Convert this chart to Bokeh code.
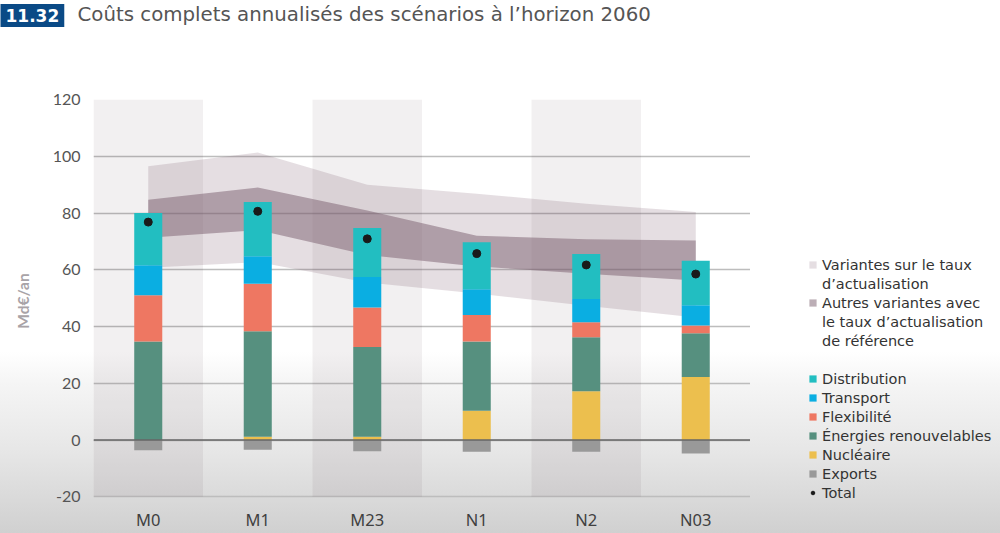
from bokeh.plotting import figure
from bokeh.layouts import row
from bokeh.models import (ColumnDataSource, FactorRange, Range1d, Legend, LegendItem,
                          Span, Label, FixedTicker)
from bokeh.embed import file_html
from bokeh.resources import INLINE

# ---------------- data ----------------
scenarios = ["M0", "M1", "M23", "N1", "N2", "N03"]
nucleaire = [0.0, 1.2, 1.2, 10.3, 17.2, 22.2]
energies_renouvelables = [34.7, 37.1, 31.6, 24.4, 19.0, 15.4]
flexibilite = [16.3, 16.8, 13.9, 9.4, 5.3, 2.8]
transport = [10.6, 9.7, 10.8, 9.0, 8.2, 7.1]
distribution = [18.4, 19.1, 17.2, 16.6, 15.9, 15.7]
exports = [-3.6, -3.4, -3.9, -4.1, -4.1, -4.7]
total = [76.8, 80.6, 70.9, 65.7, 61.7, 58.5]

# bands (variants)
taux_bas = [60.7, 62.7, 55.5, 51.6, 47.3, 43.2]
taux_haut = [96.5, 101.3, 90.0, 86.8, 83.3, 80.4]
autres_bas = [71.3, 74.0, 65.2, 61.2, 58.6, 56.2]
autres_haut = [84.7, 89.0, 80.9, 72.0, 70.8, 70.3]

shaded = ["M0", "M23", "N2"]
y_ticks = [-20, 0, 20, 40, 60, 80, 100, 120]

colors = {
    "nucleaire": "#ecbf4e",
    "energies_renouvelables": "#56907f",
    "flexibilite": "#ee7762",
    "transport": "#0aaee2",
    "distribution": "#22bec1",
    "exports": "#999999",
    "total": "#1a1a1a",
}
band_outer = dict(fill_color="#7d5a6e", fill_alpha=0.2)
band_inner = dict(fill_color="#7a5d6d", fill_alpha=0.5)

GRADIENT = {"background": "linear-gradient(to bottom, #ffffff 0%, #ffffff 66%, #f5f5f5 72%, #e6e6e6 85%, #d0d0d0 100%)"}

src = ColumnDataSource(dict(
    x=scenarios, nucleaire=nucleaire, energies_renouvelables=energies_renouvelables,
    flexibilite=flexibilite, transport=transport, distribution=distribution,
    exports=exports, total=total,
))

p = figure(
    x_range=FactorRange(*scenarios), y_range=Range1d(-22, 120),
    width=750, height=533, output_backend="svg", toolbar_location=None,
    min_border_left=93, min_border_right=0, min_border_top=99, min_border_bottom=31,
)
p.background_fill_alpha = 0
p.border_fill_alpha = 0
p.outline_line_color = None
p.styles = GRADIENT

# alternating column shading
p.vbar(x=shaded, top=120, bottom=-20, width=1.0, fill_color="#3a2030",
       fill_alpha=0.065, line_color=None)

# variant bands
p.varea(x=scenarios, y1=taux_bas, y2=taux_haut, **band_outer)
p.varea(x=scenarios, y1=autres_bas, y2=autres_haut, **band_inner)

# stacked bars
stack_keys = ["nucleaire", "energies_renouvelables", "flexibilite", "transport", "distribution"]
p.vbar_stack(stack_keys, x="x", width=0.256, source=src,
             color=[colors[k] for k in stack_keys], line_color=None)
p.vbar(x="x", top=0, bottom="exports", width=0.256, source=src,
       fill_color=colors["exports"], line_color=None)
p.scatter(x="x", y="total", size=8, source=src, color=colors["total"])

p.add_layout(Span(location=0, dimension="width", line_color="#666666", line_width=1.5))

# grid / axes
p.xgrid.visible = False
p.ygrid.ticker = FixedTicker(ticks=y_ticks)
p.ygrid.grid_line_color = "#bdbdbd"
p.ygrid.grid_line_width = 1.5

p.yaxis.ticker = FixedTicker(ticks=y_ticks)
p.yaxis.major_label_overrides = {t: str(t) for t in y_ticks}
for ax in (p.xaxis[0], p.yaxis[0]):
    ax.axis_line_color = None
    ax.major_tick_line_color = None
    ax.minor_tick_line_color = None
    ax.major_tick_out = 0
    ax.major_tick_in = 0
    ax.minor_tick_out = 0
p.yaxis.major_label_standoff = 13
p.yaxis.major_label_text_font = "Lato"
p.yaxis.major_label_text_font_size = "16px"
p.yaxis.major_label_text_color = "#555555"
p.yaxis.axis_label = "Md€/an"
p.yaxis.axis_label_text_font = "Lato"
p.yaxis.axis_label_text_font_style = "bold"
p.yaxis.axis_label_text_font_size = "15.5px"
p.yaxis.axis_label_text_color = "#a8a3a7"
p.yaxis.axis_label_standoff = 18

p.xaxis.major_label_standoff = 5
p.xaxis.major_label_text_font = "Noto Sans"
p.xaxis.major_label_text_font_size = "16.5px"
p.xaxis.major_label_text_color = "#404040"

# title (labels in the top panel)
p.add_layout(Label(x=-93, y=84, x_units="screen", y_units="screen", text="11.32",
                   text_font="DejaVu Sans", text_font_style="bold", text_font_size="17px",
                   text_color="white", text_baseline="middle",
                   background_fill_color="#0a4a86", padding=5), "above")
p.add_layout(Label(x=-16, y=62, x_units="screen", y_units="screen",
                   text="Coûts complets annualisés des scénarios à l’horizon 2060",
                   text_font="DejaVu Sans", text_font_size="19.8px", text_color="#555555",
                   text_baseline="middle"), "above")

# ---------------- legend panel ----------------
# same data as the chart, placed outside this panel's visible y range: only the swatches show
lg = figure(width=250, height=533, x_range=FactorRange(*scenarios), y_range=Range1d(500, 501),
            output_backend="svg", toolbar_location=None, min_border=0,
            x_axis_location=None, y_axis_location=None)
lg.grid.visible = False
lg.outline_line_color = None
lg.background_fill_alpha = 0
lg.border_fill_alpha = 0
lg.styles = GRADIENT

r_outer = lg.varea(x=scenarios, y1=taux_bas, y2=taux_haut, **band_outer)
r_inner = lg.varea(x=scenarios, y1=autres_bas, y2=autres_haut, **band_inner)
r_blank = lg.scatter(x="x", y="total", source=src, size=1, alpha=0)
r_bar = {k: lg.varea(x="x", y1=k, y2="total", source=src, fill_color=colors[k])
         for k in ["distribution", "transport", "flexibilite", "energies_renouvelables",
                   "nucleaire", "exports"]}
r_tot = lg.scatter(x="x", y="total", source=src, size=6, color=colors["total"])

leg = Legend(items=[
    LegendItem(label="Variantes sur le taux", renderers=[r_outer]),
    LegendItem(label="d’actualisation", renderers=[r_blank]),
    LegendItem(label="Autres variantes avec", renderers=[r_inner]),
    LegendItem(label="le taux d’actualisation", renderers=[r_blank]),
    LegendItem(label="de référence", renderers=[r_blank]),
    LegendItem(label=" ", renderers=[r_blank]),
    LegendItem(label="Distribution", renderers=[r_bar["distribution"]]),
    LegendItem(label="Transport", renderers=[r_bar["transport"]]),
    LegendItem(label="Flexibilité", renderers=[r_bar["flexibilite"]]),
    LegendItem(label="Énergies renouvelables", renderers=[r_bar["energies_renouvelables"]]),
    LegendItem(label="Nucléaire", renderers=[r_bar["nucleaire"]]),
    LegendItem(label="Exports", renderers=[r_bar["exports"]]),
    LegendItem(label="Total", renderers=[r_tot]),
], location=(58, 0), glyph_width=9, glyph_height=9, label_standoff=5, padding=0,
    spacing=0, margin=0, border_line_color=None, background_fill_alpha=0, label_height=19,
    label_text_font="DejaVu Sans", label_text_font_size="14.5px",
    label_text_color="#333333")
lg.add_layout(leg, "center")

layout = row(p, lg, spacing=0)
open("out.html", "w").write(file_html(layout, INLINE))
